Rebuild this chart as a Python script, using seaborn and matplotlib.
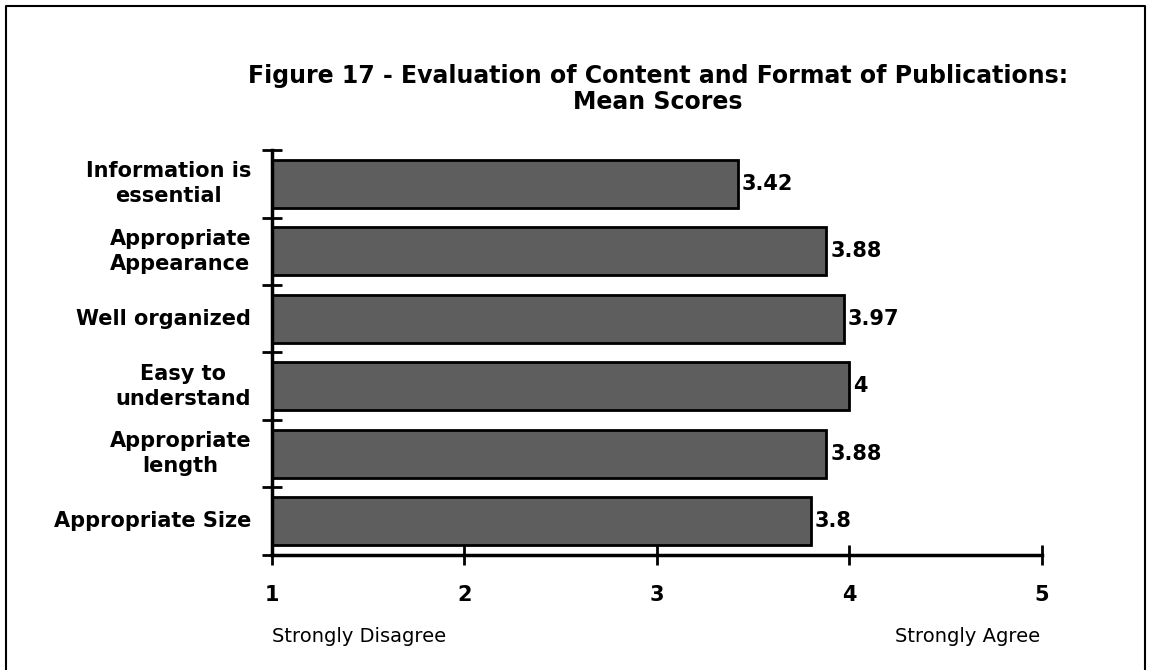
import matplotlib
matplotlib.use("Agg")
import matplotlib.pyplot as plt
import seaborn as sns
import pandas as pd
from matplotlib.lines import Line2D

sns.set_style("white")
plt.rcParams['font.family'] = ['DejaVu Sans']
plt.rcParams['text.color'] = 'black'
plt.rcParams['xtick.color'] = 'black'
plt.rcParams['ytick.color'] = 'black'

# data
categories = ["Information is\nessential", "Appropriate\nAppearance", "Well organized",
              "Easy to\nunderstand", "Appropriate\nlength", "Appropriate Size"]
scores = [3.42, 3.88, 3.97, 4.0, 3.88, 3.8]
value_labels = ["3.42", "3.88", "3.97", "4", "3.88", "3.8"]
x_ticks = [1, 2, 3, 4, 5]

df = pd.DataFrame({"category": categories, "score": scores})

fig = plt.figure(figsize=(11.5, 6.7), dpi=100)
ax = fig.add_axes([0.2365, 0.172, 0.906 - 0.2365, 0.776 - 0.172])

sns.barplot(data=df, y="category", x="score", ax=ax, color="#5e5e5e",
            edgecolor="black", linewidth=2, width=0.71, saturation=1, orient="h")
# bars start at 1 (axis origin)
for p in ax.patches:
    w = p.get_width()
    p.set_x(1)
    p.set_width(w - 1)

ax.set_xlim(1, 5)
ax.set_ylim(len(categories) - 0.5, -0.5)
ax.set_xticks(x_ticks)
ax.set_xticklabels([str(t) for t in x_ticks], fontsize=15, fontweight="bold")
ax.tick_params(axis="x", bottom=True, direction="inout", length=14, width=2, pad=15)

# y ticks at category boundaries, labels at centers
ax.set_yticks([i - 0.5 for i in range(len(categories) + 1)])
ax.set_yticklabels([])
ax.tick_params(axis="y", left=True, direction="inout", length=14, width=2)
for i, c in enumerate(categories):
    ax.text(-0.027, i, c, transform=ax.get_yaxis_transform(), ha="right", va="center",
            multialignment="center", fontsize=15, fontweight="bold", linespacing=1.3)

for i, (s, lab) in enumerate(zip(scores, value_labels)):
    ax.text(s + 0.02, i, lab, ha="left", va="center", fontsize=15, fontweight="bold")

ax.set_xlabel("")
ax.set_ylabel("")
for side in ["top", "right"]:
    ax.spines[side].set_visible(False)
for side in ["left", "bottom"]:
    ax.spines[side].set_linewidth(2.5)
    ax.spines[side].set_color("black")

fig.text(658 / 1150, 0.867, "Figure 17 - Evaluation of Content and Format of Publications:\nMean Scores",
         ha="center", va="center", fontsize=17, fontweight="bold", linespacing=1.1)

fig.text(272 / 1150, 1 - 637 / 670, "Strongly Disagree", ha="left", va="center", fontsize=14)
fig.text(1040 / 1150, 1 - 637 / 670, "Strongly Agree", ha="right", va="center", fontsize=14)

# outer frame (left, top, right)
x0, x1, y1 = 6 / 1150, 1145 / 1150, 1 - 6 / 670
fig.add_artist(Line2D([x0, x0, x1, x1], [0, y1, y1, 0], transform=fig.transFigure,
                      color="black", linewidth=1.5))

fig.savefig("out.png", dpi=100)
